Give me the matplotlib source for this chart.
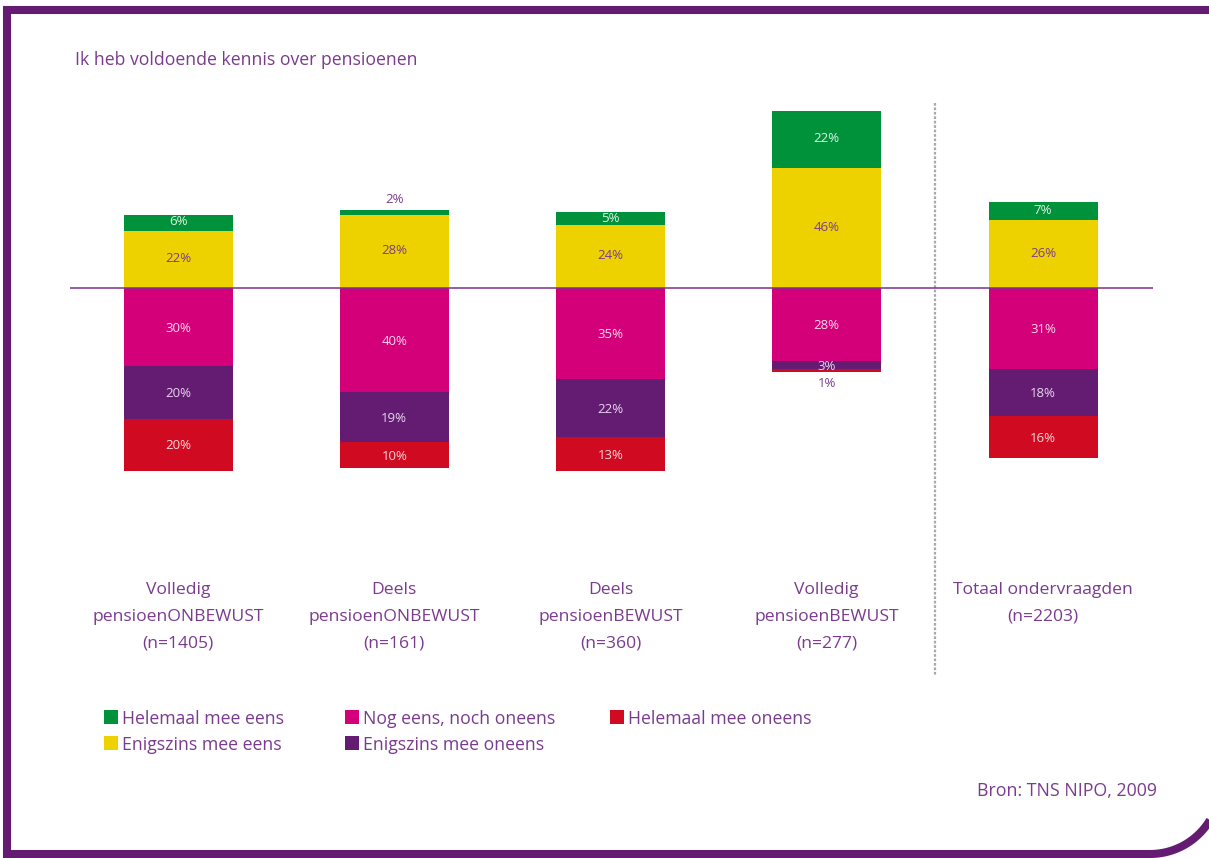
import numpy as np
import matplotlib
matplotlib.use("Agg")
import matplotlib.pyplot as plt
from matplotlib.patches import Rectangle
from matplotlib.transforms import blended_transform_factory

plt.rcParams['font.family'] = ['Open Sans', 'DejaVu Sans']

# ---- data -------------------------------------------------------------
groups = [
    "Volledig\npensioenONBEWUST\n(n=1405)",
    "Deels\npensioenONBEWUST\n(n=161)",
    "Deels\npensioenBEWUST\n(n=360)",
    "Volledig\npensioenBEWUST\n(n=277)",
    "Totaal ondervraagden\n(n=2203)",
]
helemaal_eens = [6, 2, 5, 22, 7]
enigszins_eens = [22, 28, 24, 46, 26]
neutraal = [30, 40, 35, 28, 31]
enigszins_oneens = [20, 19, 22, 3, 18]
helemaal_oneens = [20, 10, 13, 1, 16]

legend_labels = ["Helemaal mee eens", "Enigszins mee eens", "Nog eens, noch oneens",
                 "Enigszins mee oneens", "Helemaal mee oneens"]
title = "Ik heb voldoende kennis over pensioenen"
source = "Bron: TNS NIPO, 2009"

# ---- style ------------------------------------------------------------
GREEN = "#00923a"
YELLOW = "#eed200"
MAGENTA = "#d4007a"
PURPLE = "#641c72"
RED = "#d00a20"
TEXT = "#7a3b8f"
FRAME = "#641c72"

W, H = 1209, 858
fig = plt.figure(figsize=(W / 100, H / 100), dpi=100)

# overlay axes in pixel coordinates for frame, title, legend and source
ov = fig.add_axes([0, 0, 1, 1])
ov.set_xlim(0, W)
ov.set_ylim(H, 0)
ov.axis("off")

# frame with rounded lower-right corner
r = 70
cx, cy = 1150, 854 - r
theta = np.linspace(np.pi / 2, 0, 40)
arc_x = cx + r * np.cos(theta)
arc_y = cy + r * np.sin(theta)
fx = np.concatenate([[W + 5, 7, 7], arc_x])
fy = np.concatenate([[10, 10, 854], arc_y])
ov.plot(fx, fy, color=FRAME, lw=5.8, solid_joinstyle="miter", solid_capstyle="butt")

ov.text(75, 60, title, fontsize=12.7, color=TEXT, va="center", ha="left")
ov.text(1157, 791, source, fontsize=12.8, color=TEXT, va="center", ha="right")

# legend
leg_items = [
    (104, 717, GREEN, legend_labels[0]),
    (104, 743, YELLOW, legend_labels[1]),
    (345, 717, MAGENTA, legend_labels[2]),
    (345, 743, PURPLE, legend_labels[3]),
    (610, 717, RED, legend_labels[4]),
]
for lx, ly, col, lab in leg_items:
    ov.add_patch(Rectangle((lx, ly - 7), 14, 14, facecolor=col, edgecolor="none"))
    ov.text(lx + 18, ly + 1.5, lab, fontsize=12.7, color=TEXT, va="center", ha="left")

# ---- bar axes -----------------------------------------------------------
x0_px, x1_px = 70, 1153
y0_px, y1_px = 100, 480
ax = fig.add_axes([x0_px / W, 1 - y1_px / H, (x1_px - x0_px) / W, (y1_px - y0_px) / H])
ax.patch.set_alpha(0)
ax.axis("off")

pxs = 2.61  # pixels per percent
zero_px = 288
ax.set_ylim(-(y1_px - zero_px) / pxs, (zero_px - y0_px) / pxs)
spacing = 216.25
c0 = 178
ax.set_xlim((x0_px - c0) / spacing, (x1_px - c0) / spacing)

x = np.arange(len(groups))
bw = 109 / spacing

pos_series = [(enigszins_eens, YELLOW, TEXT), (helemaal_eens, GREEN, "#dff2e4")]
neg_series = [(neutraal, MAGENTA, "#fbd8ea"), (enigszins_oneens, PURPLE, "#e6d8ec"),
              (helemaal_oneens, RED, "#f7d6da")]

LBL = 9.5

bottom = np.zeros(len(groups))
for vals, col, tcol in pos_series:
    vals = np.array(vals, dtype=float)
    ax.bar(x, vals, bw, bottom=bottom, color=col, edgecolor="none")
    for i, v in enumerate(vals):
        if v >= 3:
            ax.text(x[i], bottom[i] + v / 2 + 0.3, f"{int(v)}%", ha="center", va="center",
                    fontsize=LBL, color=tcol)
        else:
            ax.text(x[i], bottom[i] + v + 4, f"{int(v)}%", ha="center", va="center",
                    fontsize=LBL, color=TEXT)
    bottom += vals

bottom = np.zeros(len(groups))
for vals, col, tcol in neg_series:
    vals = np.array(vals, dtype=float)
    ax.bar(x, -vals, bw, bottom=-bottom, color=col, edgecolor="none")
    for i, v in enumerate(vals):
        if v >= 3:
            ax.text(x[i], -bottom[i] - v / 2 - 0.5, f"{int(v)}%", ha="center", va="center",
                    fontsize=LBL, color=tcol)
        else:
            ax.text(x[i], -bottom[i] - v - 4.5, f"{int(v)}%", ha="center", va="center",
                    fontsize=LBL, color=TEXT)
    bottom += vals

ax.axhline(0, color="#7b2f8e", lw=1.1, zorder=5)

# dotted separator before the total column and group labels below the bars
bt = blended_transform_factory(ax.transData, fig.transFigure)
ax.plot([3.5, 3.5], [1 - 103 / H, 1 - 675 / H], transform=bt, clip_on=False,
        color="#a8a8a8", lw=1.6, ls=(0, (1.2, 0.8)))
for i, g in enumerate(groups):
    ax.text(x[i], 1 - 582 / H, g, transform=bt, ha="center", va="top",
            fontsize=12.6, color=TEXT, linespacing=1.89)

fig.savefig("out.png", dpi=100)
